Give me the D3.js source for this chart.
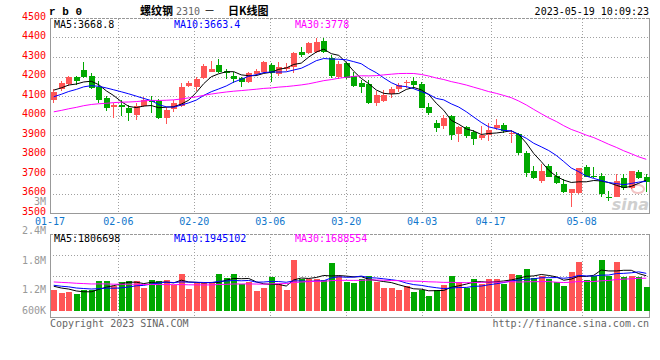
<!DOCTYPE html>
<html><head><meta charset="utf-8">
<script src="https://cdn.jsdelivr.net/npm/d3@7"></script>
<style>
body{margin:0;background:#fff}
svg{display:block}
text{font-family:"DejaVu Sans Mono","Liberation Mono",monospace;font-size:10px}
</style>
</head><body>
<svg id="c" width="660" height="360"></svg>
<script>
// ---------- data ----------
const dates = ["01-17","01-18","01-19","01-20","01-30","01-31","02-01","02-02","02-03","02-06","02-07","02-08","02-09","02-10","02-13","02-14","02-15","02-16","02-17","02-20","02-21","02-22","02-23","02-24","02-27","02-28","03-01","03-02","03-03","03-06","03-07","03-08","03-09","03-10","03-13","03-14","03-15","03-16","03-17","03-20","03-21","03-22","03-23","03-24","03-27","03-28","03-29","03-30","03-31","04-03","04-04","04-06","04-07","04-10","04-11","04-12","04-13","04-14","04-17","04-18","04-19","04-20","04-21","04-24","04-25","04-26","04-27","04-28","05-04","05-05","05-08","05-09","05-10","05-11","05-12","05-15","05-16","05-17","05-18","05-19"];
const labelDates = ["01-17","02-06","02-20","03-06","03-20","04-03","04-17","05-08"];
const open  = [4080,4134,4160,4198,4232,4202,4147,4091,4042,4052,4040,4003,4048,4078,4073,3988,4031,4048,4151,4147,4193,4224,4258,4227,4202,4190,4173,4211,4221,4258,4211,4241,4250,4326,4323,4326,4381,4294,4195,4270,4202,4165,4161,4065,4074,4108,4135,4165,4178,4161,4045,3962,3946,3997,3905,3942,3917,3883,3900,3937,3951,3905,3905,3809,3715,3666,3741,3690,3649,3604,3604,3738,3692,3690,3584,3584,3678,3627,3712,3686];
const high  = [4135,4175,4205,4202,4275,4220,4176,4100,4062,4080,4053,4062,4093,4100,4083,4042,4079,4165,4178,4198,4262,4279,4289,4241,4224,4198,4224,4237,4281,4270,4272,4270,4327,4352,4377,4400,4400,4310,4280,4276,4224,4181,4181,4125,4130,4147,4168,4181,4198,4170,4062,3977,4005,4005,3946,3946,3925,3946,3960,3983,3960,3925,3910,3819,3742,3750,3750,3712,3673,3621,3732,3744,3738,3703,3615,3698,3698,3715,3720,3700];
const low   = [4062,4128,4150,4155,4190,4134,4062,4024,3985,3997,3973,3977,4042,4014,3983,3956,4019,4042,4144,4127,4186,4221,4216,4185,4168,4147,4165,4202,4216,4173,4202,4228,4220,4298,4316,4318,4318,4190,4185,4185,4144,4116,4058,4048,4067,4091,4118,4139,4135,4036,4002,3917,3932,3874,3865,3883,3849,3874,3869,3925,3912,3860,3800,3686,3674,3655,3683,3648,3601,3532,3598,3683,3678,3584,3560,3580,3618,3622,3673,3609];
const close = [4120,4168,4198,4176,4198,4139,4079,4041,4053,4045,4014,4050,4080,4067,3988,4028,4062,4147,4168,4185,4255,4238,4224,4219,4188,4173,4216,4228,4275,4216,4250,4250,4318,4309,4372,4377,4326,4202,4265,4190,4151,4144,4065,4104,4104,4134,4156,4170,4156,4040,4015,3934,3988,3900,3939,3896,3879,3900,3925,3951,3922,3910,3806,3706,3681,3715,3686,3652,3609,3621,3732,3686,3685,3598,3578,3664,3627,3715,3678,3660];
const volume = [1100,925,977,859,1064,1100,1542,1542,1270,1491,1542,1542,1183,1578,1542,1578,1321,1887,1116,1440,1440,1440,1887,1697,1887,1373,1491,1028,1183,1748,1373,1064,2607,1666,1630,1630,1578,2468,1784,1491,1440,1630,1784,1491,1203,1183,1064,1270,977,1100,771,1100,1321,1784,1491,1203,1630,1409,1630,1630,1409,1887,1835,2144,1717,1784,1630,1491,1270,2005,2519,1578,1784,2607,1784,2519,1748,1784,1748,1234].map(v=>v*1000);
// sessions before 01-17 (estimated from where the moving averages start)
const priorCloses = [3950,3945,3960,3940,3955,3970,3965,3950,3975,3990,3985,3970,3995,4000,3990,4005,4010,4000,4015,4035,4040,4055,4070,4065,4080,4110,4125,4150,4145];
const priorVolume = [1620,1480,1710,1550,1660,1430,1590,1720,1500,1610,1470,1680,1540,1630,1580,1490,1700,1520,1450,1570,1420,1300,1450,1330,1350,1380,1250,1340,1280].map(v=>v*1000);
const priceTicks = [4500,4400,4300,4200,4100,4000,3900,3800,3700,3600,3500];
const volTicks = [2400000,1800000,1200000,600000];
const volTickText = ["2.4M","1.8M","1.2M","600K"];
const maPeriods = [5,10,30];
const maColors = ["#000000","#0000ff","#ff00ff"];
const priceMaText = ["MA5:3668.8","MA10:3663.4","MA30:3778"];
const volMaText = ["MA5:1806698","MA10:1945102","MA30:1688554"];

// ---------- drawing ----------
const svg = d3.select("#c");
const X0 = 50, X1 = 650;
const N = dates.length;
const xBand = d3.scaleBand().domain(d3.range(N)).range([X0, X1]);
const xGrid = d3.scalePoint().domain(dates).range([X0, X1]);
const yP = d3.scaleLinear().domain([3500, 4500]).range([213, 18]);
const yV = d3.scaleLinear().domain([0, 4000000]).range([311, 233]);
const cx = i => xBand(i) + xBand.bandwidth() / 2;
const RED = "#ff5555", GREEN = "#00a800", GRID = "#a0a0a0", AXIS = "#999";

function movingAvg(prior, vals, n) {
  const all = prior.concat(vals), off = prior.length;
  return vals.map((_, i) => d3.mean(all.slice(off + i - n + 1, off + i + 1)));
}

// price panel grid
const g = svg.append("g");
g.selectAll(".hp").data(priceTicks.filter(v => v > 3500 && v < 4500)).join("line")
  .attr("x1", X0).attr("x2", X1)
  .attr("y1", d => Math.round(yP(d)) + 0.5).attr("y2", d => Math.round(yP(d)) + 0.5)
  .attr("stroke", GRID).attr("stroke-dasharray", "1,2");
g.selectAll(".vp").data(labelDates.slice(1)).join("line")
  .attr("x1", d => Math.round(xGrid(d)) + 0.5).attr("x2", d => Math.round(xGrid(d)) + 0.5)
  .attr("y1", 19).attr("y2", 213)
  .attr("stroke", GRID).attr("stroke-dasharray", "1,2");
// volume panel grid
const VT = 234, VB = 318;
g.selectAll(".hv").data([1, 2, 3]).join("line")
  .attr("x1", X0).attr("x2", X1)
  .attr("y1", d => Math.round(VT + (VB - VT) * d / 4) + 0.5).attr("y2", d => Math.round(VT + (VB - VT) * d / 4) + 0.5)
  .attr("stroke", GRID).attr("stroke-dasharray", "1,2");
g.selectAll(".vv").data(labelDates.slice(1)).join("line")
  .attr("x1", d => Math.round(xGrid(d)) + 0.5).attr("x2", d => Math.round(xGrid(d)) + 0.5)
  .attr("y1", VT).attr("y2", VB)
  .attr("stroke", GRID).attr("stroke-dasharray", "1,2");

// frames
const frame = svg.append("g").attr("stroke", AXIS).attr("fill", "none").attr("shape-rendering", "crispEdges");
frame.append("line").attr("x1", X0).attr("x2", X1).attr("y1", 18.5).attr("y2", 18.5).attr("stroke-dasharray", "3,1");
frame.append("line").attr("x1", X0 + 0.5).attr("x2", X0 + 0.5).attr("y1", 18).attr("y2", 214);
frame.append("line").attr("x1", X1 - 0.5).attr("x2", X1 - 0.5).attr("y1", 18).attr("y2", 214);
frame.append("line").attr("x1", X0).attr("x2", X1).attr("y1", 213.5).attr("y2", 213.5);
frame.append("line").attr("x1", X0).attr("x2", X1).attr("y1", VT + 0.5).attr("y2", VT + 0.5).attr("stroke-dasharray", "3,1");
frame.append("line").attr("x1", X0 + 0.5).attr("x2", X0 + 0.5).attr("y1", VT).attr("y2", VB);
frame.append("line").attr("x1", X1 - 0.5).attr("x2", X1 - 0.5).attr("y1", VT).attr("y2", VB);
frame.append("line").attr("x1", X0).attr("x2", X1).attr("y1", VB - 0.5).attr("y2", VB - 0.5);

// watermark
const wm = svg.append("g");
wm.append("ellipse").attr("cx", 638).attr("cy", 189).attr("rx", 6).attr("ry", 4)
  .attr("fill", "none").attr("stroke", "#f2c4c4").attr("stroke-width", 2);
wm.append("text").attr("x", 649).attr("y", 210).attr("text-anchor", "end")
  .style("font-family", "'DejaVu Sans',sans-serif").style("font-size", "16px")
  .style("font-style", "italic").style("font-weight", "bold").attr("fill", "#cfcfcf").text("sina");

// candles
const isUp = i => close[i] >= open[i];
const cg = svg.append("g").attr("shape-rendering", "crispEdges");
cg.selectAll(".wick").data(d3.range(N)).join("line")
  .attr("x1", i => Math.floor(cx(i)) + 0.5).attr("x2", i => Math.floor(cx(i)) + 0.5)
  .attr("y1", i => yP(high[i])).attr("y2", i => yP(low[i]))
  .attr("stroke", i => isUp(i) ? RED : GREEN);
cg.selectAll(".body").data(d3.range(N)).join("rect")
  .attr("x", i => Math.floor(cx(i)) - 2.5)
  .attr("width", 6)
  .attr("y", i => yP(Math.max(open[i], close[i])))
  .attr("height", i => Math.max(1, yP(Math.min(open[i], close[i])) - yP(Math.max(open[i], close[i]))))
  .attr("fill", i => isUp(i) ? RED : GREEN);

// volume bars
cg.selectAll(".vol").data(d3.range(N)).join("rect")
  .attr("x", i => Math.floor(cx(i)) - 2.5)
  .attr("width", 6)
  .attr("y", i => yV(volume[i]))
  .attr("height", i => yV(0) - yV(volume[i]))
  .attr("fill", i => isUp(i) ? RED : GREEN);

// moving averages
maPeriods.forEach((p, k) => {
  const pm = movingAvg(priorCloses, close, p);
  svg.append("path").datum(pm)
    .attr("d", d3.line().x((d, i) => cx(i)).y(d => yP(d)))
    .attr("fill", "none").attr("stroke", maColors[k]).attr("stroke-width", 1);
  const vm = movingAvg(priorVolume, volume, p);
  svg.append("path").datum(vm)
    .attr("d", d3.line().x((d, i) => cx(i)).y(d => yV(d)))
    .attr("fill", "none").attr("stroke", maColors[k]).attr("stroke-width", 1);
});

// text
const t = svg.append("g");
t.selectAll(".pt").data(priceTicks).join("text")
  .attr("x", 46).attr("y", d => yP(d) + 1.5).attr("text-anchor", "end")
  .attr("fill", "#ff0000").text(d => d);
t.append("text").attr("x", 46).attr("y", 205).attr("text-anchor", "end").attr("fill", "#999").text("3M");
const volLabelY = d3.scaleLinear().domain([2400000, 1200000]).range([234, 293]);
t.selectAll(".vt").data(volTicks).join("text")
  .attr("x", 46).attr("y", d => Math.min(314, volLabelY(d))).attr("text-anchor", "end")
  .attr("fill", "#999").text((d, i) => volTickText[i]);
t.selectAll(".dl").data(labelDates).join("text")
  .attr("x", d => xGrid(d)).attr("y", 225).attr("text-anchor", "middle")
  .attr("fill", "#1177cc").text(d => d);
const maX = [54, 174, 295];
priceMaText.forEach((s, k) => t.append("text").attr("x", maX[k]).attr("y", 27.5).attr("fill", maColors[k]).text(s));
volMaText.forEach((s, k) => t.append("text").attr("x", maX[k]).attr("y", 242).attr("fill", maColors[k]).text(s));

t.append("text").attr("x", 49).attr("y", 15)
  .style("font-family", "'Liberation Mono','DejaVu Sans Mono',monospace").style("font-size", "11px").style("font-weight", "bold")
  .attr("fill", "#000").text("r b 0");
const cjk = "'Noto Sans CJK SC',sans-serif";
t.append("text").attr("x", 140).attr("y", 15).style("font-family", cjk).style("font-size", "11px").style("font-weight", "bold").attr("fill", "#000").text("螺纹钢");
t.append("text").attr("x", 176).attr("y", 15).attr("fill", "#666").text("2310");
t.append("text").attr("x", 204).attr("y", 15).style("font-family", cjk).style("font-size", "11px").attr("fill", "#000").text("－");
t.append("text").attr("x", 228).attr("y", 15).style("font-family", cjk).style("font-size", "11px").style("font-weight", "bold").attr("fill", "#000").text("日K线图");
t.append("text").attr("x", 649).attr("y", 15).attr("text-anchor", "end").attr("fill", "#000").text("2023-05-19 10:09:23");
t.append("text").attr("x", 50).attr("y", 327).attr("fill", "#666").text("Copyright 2023 SINA.COM");
t.append("text").attr("x", 649).attr("y", 327).attr("text-anchor", "end").attr("fill", "#666").text("http://finance.sina.com.cn");
</script>
</body></html>
